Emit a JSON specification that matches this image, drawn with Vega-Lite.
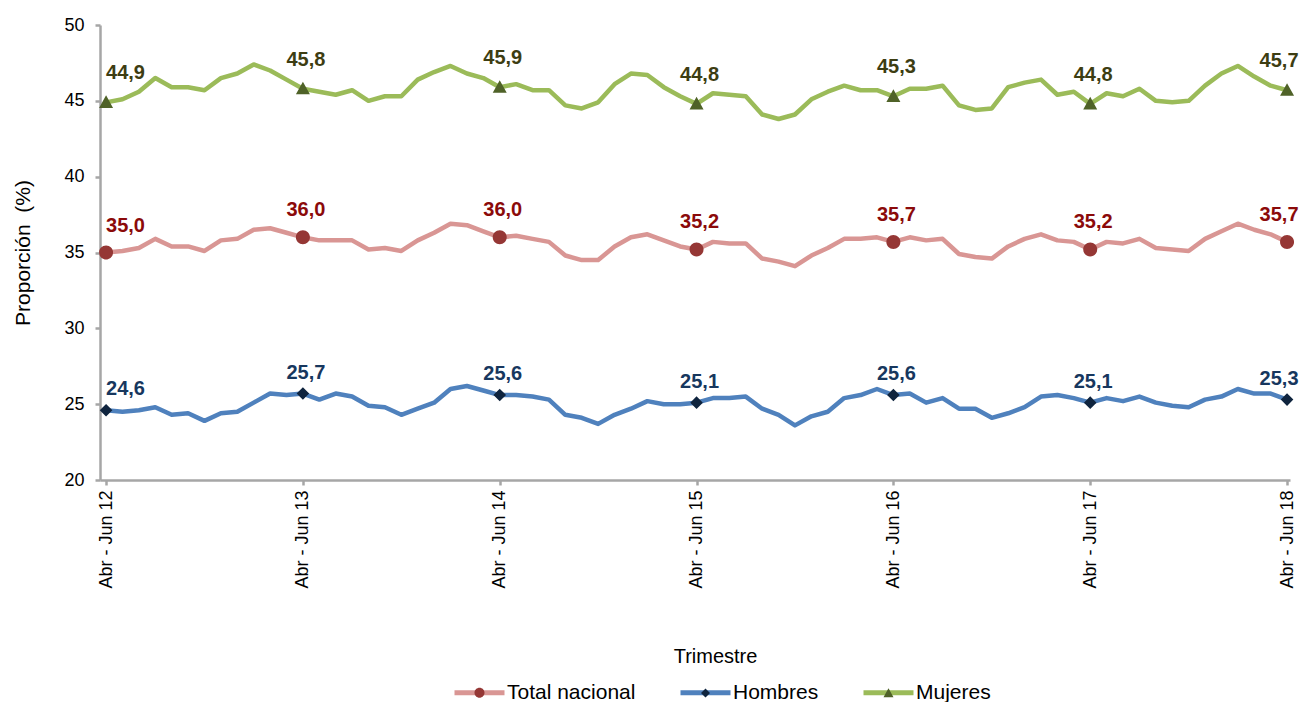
{
"$schema": "https://vega.github.io/schema/vega-lite/v6.json",
"width": 1190, "height": 455,
"autosize": "none",
"padding": {"left": 100, "top": 25, "right": 15, "bottom": 222},
"config": {
  "view": {"stroke": null},
  "font": "Liberation Sans",
  "locale": {"number": {"decimal": ",", "thousands": ".", "grouping": [3], "currency": ["", " €"]}},
  "axis": {"domainColor": "#a6a6a6", "domainWidth": 2.5, "tickColor": "#a6a6a6", "tickWidth": 2.5, "tickSize": 5, "grid": false, "labelColor": "#000000", "titleColor": "#000000", "labelFont": "Liberation Sans", "titleFont": "Liberation Sans", "titleFontWeight": "normal"}
},
"data": {"values": [
{"i":0,"Total nacional":35.0,"Hombres":24.6,"Mujeres":44.9},
{"i":1,"Total nacional":35.1,"Hombres":24.5,"Mujeres":45.1},
{"i":2,"Total nacional":35.3,"Hombres":24.6,"Mujeres":45.6},
{"i":3,"Total nacional":35.9,"Hombres":24.8,"Mujeres":46.5},
{"i":4,"Total nacional":35.4,"Hombres":24.3,"Mujeres":45.9},
{"i":5,"Total nacional":35.4,"Hombres":24.4,"Mujeres":45.9},
{"i":6,"Total nacional":35.1,"Hombres":23.9,"Mujeres":45.7},
{"i":7,"Total nacional":35.8,"Hombres":24.4,"Mujeres":46.5},
{"i":8,"Total nacional":35.9,"Hombres":24.5,"Mujeres":46.8},
{"i":9,"Total nacional":36.5,"Hombres":25.1,"Mujeres":47.4},
{"i":10,"Total nacional":36.6,"Hombres":25.7,"Mujeres":47.0},
{"i":11,"Total nacional":36.3,"Hombres":25.6,"Mujeres":46.4},
{"i":12,"Total nacional":36.0,"Hombres":25.7,"Mujeres":45.8},
{"i":13,"Total nacional":35.8,"Hombres":25.3,"Mujeres":45.6},
{"i":14,"Total nacional":35.8,"Hombres":25.7,"Mujeres":45.4},
{"i":15,"Total nacional":35.8,"Hombres":25.5,"Mujeres":45.7},
{"i":16,"Total nacional":35.2,"Hombres":24.9,"Mujeres":45.0},
{"i":17,"Total nacional":35.3,"Hombres":24.8,"Mujeres":45.3},
{"i":18,"Total nacional":35.1,"Hombres":24.3,"Mujeres":45.3},
{"i":19,"Total nacional":35.8,"Hombres":24.7,"Mujeres":46.4},
{"i":20,"Total nacional":36.3,"Hombres":25.1,"Mujeres":46.9},
{"i":21,"Total nacional":36.9,"Hombres":26.0,"Mujeres":47.3},
{"i":22,"Total nacional":36.8,"Hombres":26.2,"Mujeres":46.8},
{"i":23,"Total nacional":36.4,"Hombres":25.9,"Mujeres":46.5},
{"i":24,"Total nacional":36.0,"Hombres":25.6,"Mujeres":45.9},
{"i":25,"Total nacional":36.1,"Hombres":25.6,"Mujeres":46.1},
{"i":26,"Total nacional":35.9,"Hombres":25.5,"Mujeres":45.7},
{"i":27,"Total nacional":35.7,"Hombres":25.3,"Mujeres":45.7},
{"i":28,"Total nacional":34.8,"Hombres":24.3,"Mujeres":44.7},
{"i":29,"Total nacional":34.5,"Hombres":24.1,"Mujeres":44.5},
{"i":30,"Total nacional":34.5,"Hombres":23.7,"Mujeres":44.9},
{"i":31,"Total nacional":35.4,"Hombres":24.3,"Mujeres":46.1},
{"i":32,"Total nacional":36.0,"Hombres":24.7,"Mujeres":46.8},
{"i":33,"Total nacional":36.2,"Hombres":25.2,"Mujeres":46.7},
{"i":34,"Total nacional":35.8,"Hombres":25.0,"Mujeres":45.9},
{"i":35,"Total nacional":35.4,"Hombres":25.0,"Mujeres":45.3},
{"i":36,"Total nacional":35.2,"Hombres":25.1,"Mujeres":44.8},
{"i":37,"Total nacional":35.7,"Hombres":25.4,"Mujeres":45.5},
{"i":38,"Total nacional":35.6,"Hombres":25.4,"Mujeres":45.4},
{"i":39,"Total nacional":35.6,"Hombres":25.5,"Mujeres":45.3},
{"i":40,"Total nacional":34.6,"Hombres":24.7,"Mujeres":44.1},
{"i":41,"Total nacional":34.4,"Hombres":24.3,"Mujeres":43.8},
{"i":42,"Total nacional":34.1,"Hombres":23.6,"Mujeres":44.1},
{"i":43,"Total nacional":34.8,"Hombres":24.2,"Mujeres":45.1},
{"i":44,"Total nacional":35.3,"Hombres":24.5,"Mujeres":45.6},
{"i":45,"Total nacional":35.9,"Hombres":25.4,"Mujeres":46.0},
{"i":46,"Total nacional":35.9,"Hombres":25.6,"Mujeres":45.7},
{"i":47,"Total nacional":36.0,"Hombres":26.0,"Mujeres":45.7},
{"i":48,"Total nacional":35.7,"Hombres":25.6,"Mujeres":45.3},
{"i":49,"Total nacional":36.0,"Hombres":25.7,"Mujeres":45.8},
{"i":50,"Total nacional":35.8,"Hombres":25.1,"Mujeres":45.8},
{"i":51,"Total nacional":35.9,"Hombres":25.4,"Mujeres":46.0},
{"i":52,"Total nacional":34.9,"Hombres":24.7,"Mujeres":44.7},
{"i":53,"Total nacional":34.7,"Hombres":24.7,"Mujeres":44.4},
{"i":54,"Total nacional":34.6,"Hombres":24.1,"Mujeres":44.5},
{"i":55,"Total nacional":35.4,"Hombres":24.4,"Mujeres":45.9},
{"i":56,"Total nacional":35.9,"Hombres":24.8,"Mujeres":46.2},
{"i":57,"Total nacional":36.2,"Hombres":25.5,"Mujeres":46.4},
{"i":58,"Total nacional":35.8,"Hombres":25.6,"Mujeres":45.4},
{"i":59,"Total nacional":35.7,"Hombres":25.4,"Mujeres":45.6},
{"i":60,"Total nacional":35.2,"Hombres":25.1,"Mujeres":44.8},
{"i":61,"Total nacional":35.7,"Hombres":25.4,"Mujeres":45.5},
{"i":62,"Total nacional":35.6,"Hombres":25.2,"Mujeres":45.3},
{"i":63,"Total nacional":35.9,"Hombres":25.5,"Mujeres":45.8},
{"i":64,"Total nacional":35.3,"Hombres":25.1,"Mujeres":45.0},
{"i":65,"Total nacional":35.2,"Hombres":24.9,"Mujeres":44.9},
{"i":66,"Total nacional":35.1,"Hombres":24.8,"Mujeres":45.0},
{"i":67,"Total nacional":35.9,"Hombres":25.3,"Mujeres":46.0},
{"i":68,"Total nacional":36.4,"Hombres":25.5,"Mujeres":46.8},
{"i":69,"Total nacional":36.9,"Hombres":26.0,"Mujeres":47.3},
{"i":70,"Total nacional":36.5,"Hombres":25.7,"Mujeres":46.6},
{"i":71,"Total nacional":36.2,"Hombres":25.7,"Mujeres":46.0},
{"i":72,"Total nacional":35.7,"Hombres":25.3,"Mujeres":45.7}
]},
"transform": [{"fold": ["Total nacional", "Hombres", "Mujeres"], "as": ["serie", "valor"]}],
"encoding": {
  "x": {"field": "i", "type": "quantitative",
        "scale": {"domain": [-0.37, 72.18], "nice": false, "zero": false},
        "axis": {"values": [0, 12, 24, 36, 48, 60, 72], "labelExpr": "'Abr - Jun ' + (12 + datum.value / 12)",
                 "labelAngle": -90, "labelAlign": "right", "labelBaseline": "middle", "labelFontSize": 18,
                 "labelPadding": 5, "labelFlush": false, "labelOverlap": false,
                 "title": "Trimestre", "titleFontSize": 20, "titlePadding": 58, "titleX": 615}},
  "y": {"field": "valor", "type": "quantitative",
        "scale": {"domain": [20, 50], "nice": false, "zero": false},
        "axis": {"values": [20, 25, 30, 35, 40, 45, 50], "labelFontSize": 18, "labelPadding": 11,
                 "title": "Proporción \u00a0(%)", "titleFontSize": 21, "titlePadding": 30}}
},
"layer": [
  {"mark": {"type": "line", "strokeWidth": 4.5, "strokeJoin": "round"},
   "encoding": {"stroke": {"field": "serie", "type": "nominal", "sort": ["Total nacional", "Hombres", "Mujeres"],
     "scale": {"range": ["#D99694", "#4F81BD", "#9BBB59"]},
     "legend": {"orient": "none", "legendX": 352, "legendY": 640, "direction": "horizontal", "title": null,
                "symbolType": "M-1,0H1", "symbolSize": 2500, "symbolStrokeWidth": 5,
                "labelFontSize": 21, "labelFont": "Liberation Sans", "labelColor": "#000000",
                "labelOffset": 0, "columnPadding": 34, "zindex": 1}}}},
  {"transform": [{"filter": "datum.i % 12 == 0"}],
   "mark": {"type": "point", "filled": true, "size": 4900, "opacity": 1, "strokeWidth": 0},
   "encoding": {
     "fill": {"field": "serie", "type": "nominal",
       "scale": {"domain": ["Total nacional", "Hombres", "Mujeres"], "range": ["#953735", "#0F243E", "#4F6228"]},
       "legend": {"orient": "none", "legendX": 352, "legendY": 640, "direction": "horizontal", "title": null,
                  "symbolSize": 2500, "symbolStrokeWidth": 5, "symbolStrokeColor": "transparent",
                  "labelFontSize": 21, "labelFont": "Liberation Sans",
                  "labelOpacity": 0, "labelOffset": 0, "columnPadding": 34, "zindex": 2}},
     "shape": {"field": "serie", "type": "nominal",
       "scale": {"domain": ["Total nacional", "Hombres", "Mujeres"],
                 "range": ["M-1,0H1M0.2,0A0.2,0.2,0,1,1,-0.2,0A0.2,0.2,0,1,1,0.2,0Z", "M-1,0H1M0,-0.18L0.18,0L0,0.18L-0.18,0Z", "M-1,0H1M0,-0.2L0.2,0.16L-0.2,0.16Z"]},
       "legend": {"orient": "none", "legendX": 352, "legendY": 640, "direction": "horizontal", "title": null,
                  "symbolSize": 2500, "symbolStrokeWidth": 5, "symbolStrokeColor": "transparent",
                  "labelFontSize": 21, "labelFont": "Liberation Sans",
                  "labelOpacity": 0, "labelOffset": 0, "columnPadding": 34, "zindex": 2}}}},
  {"transform": [{"filter": "datum.i % 12 == 0"}],
   "mark": {"type": "text", "fontSize": 20, "fontWeight": "bold", "baseline": "alphabetic",
            "align": {"expr": "datum.i == 0 ? 'left' : 'center'"},
            "dx": {"expr": "datum.i == 72 ? -8 : (datum.i == 0 ? 0 : 3)"},
            "dy": {"expr": "datum.serie == 'Hombres' ? -15 : (datum.serie == 'Mujeres' ? -23 : -21)"}},
   "encoding": {
     "text": {"field": "valor", "type": "quantitative", "format": ".1f"},
     "color": {"field": "serie", "type": "nominal",
       "scale": {"domain": ["Total nacional", "Hombres", "Mujeres"], "range": ["#8B0A0A", "#17375E", "#3D3D12"]},
       "legend": null}}}
]
}
